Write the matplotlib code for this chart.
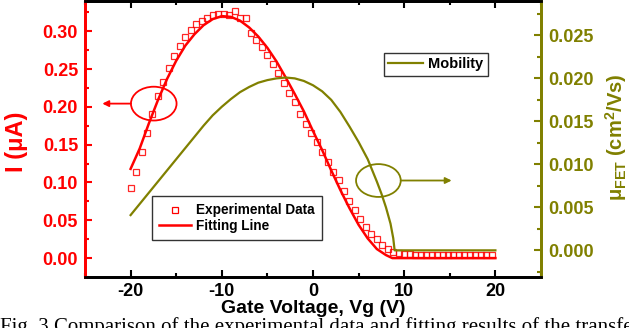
import numpy as np
import matplotlib
matplotlib.use('Agg')
import matplotlib.pyplot as plt
from matplotlib.patches import Ellipse
from matplotlib.lines import Line2D
from matplotlib.ticker import MultipleLocator

plt.rcParams['font.family'] = 'Liberation Sans'
plt.rcParams['font.weight'] = 'bold'
plt.rcParams['axes.unicode_minus'] = False
plt.rcParams['mathtext.fontset'] = 'custom'
plt.rcParams['mathtext.rm'] = 'Liberation Sans:bold'
plt.rcParams['mathtext.it'] = 'Liberation Sans:bold'
plt.rcParams['mathtext.bf'] = 'Liberation Sans:bold'

RED = '#ff0000'
OLIVE = '#808000'

# experimental data (uA), Vg step 0.6 V from -20 V
vg_exp = np.round(np.arange(67) * 0.6 - 20, 2)
i_exp = [0.093, 0.114, 0.140, 0.165, 0.190, 0.214, 0.233, 0.252, 0.267, 0.281,
         0.292, 0.301, 0.309, 0.313, 0.318, 0.321, 0.323, 0.323, 0.322, 0.327,
         0.318, 0.317, 0.298, 0.289, 0.279, 0.269, 0.257, 0.245, 0.232, 0.218,
         0.206, 0.190, 0.177, 0.166, 0.153, 0.140, 0.127, 0.114, 0.103, 0.089,
         0.076, 0.064, 0.052, 0.041, 0.032, 0.025, 0.017, 0.012, 0.008, 0.007,
         0.005, 0.005, 0.004, 0.004, 0.004, 0.004, 0.004, 0.004, 0.004, 0.004,
         0.004, 0.004, 0.004, 0.004, 0.004, 0.004, 0.004]

# fitting line (uA)
vg_fit = [-20, -19, -18, -17, -16, -15, -14, -13, -12, -11, -10, -9, -8, -7, -6,
          -5, -4, -3, -2, -1, 0, 1, 2, 3, 4, 5, 6, 7, 8, 8.7, 10, 15, 20]
i_fit = [0.118, 0.145, 0.178, 0.209, 0.237, 0.261, 0.281, 0.296, 0.308, 0.316,
         0.320, 0.319, 0.314, 0.305, 0.293, 0.278, 0.260, 0.239, 0.217, 0.194,
         0.168, 0.143, 0.116, 0.090, 0.066, 0.044, 0.026, 0.012, 0.004, 0.0,
         0.0, 0.0, 0.0]

# field-effect mobility (cm2/Vs)
vg_mob = [-20, -19, -18, -17, -16, -15, -14, -13, -12, -11, -10, -9, -8, -7, -6,
          -5, -4, -3, -2, -1, 0, 1, 2, 3, 4, 5, 6, 7, 7.5, 8, 8.5, 8.8, 8.95,
          10, 15, 20]
mu_fet = [0.0041, 0.0054, 0.0067, 0.0080, 0.0093, 0.0106, 0.0119, 0.0132,
          0.0145, 0.0157, 0.0167, 0.0176, 0.0184, 0.0190, 0.0195, 0.0198,
          0.0200, 0.0201, 0.0200, 0.0197, 0.0192, 0.0185, 0.0175, 0.0161,
          0.0144, 0.0126, 0.0106, 0.0080, 0.0066, 0.0050, 0.0031, 0.0014,
          0.0, 0.0, 0.0, 0.0]

fig = plt.figure(figsize=(6.29, 3.28), dpi=100)
ax = fig.add_axes([85/629, 51/328, 456/629, 276/328])
ax2 = ax.twinx()

ax.plot(vg_exp, i_exp, 's', ms=4.2, mfc='none', mec=RED, mew=0.9, alpha=0.85)
ax.plot(vg_fit, i_fit, '-', color=RED, lw=1.8)
ax2.plot(vg_mob, mu_fet, '-', color=OLIVE, lw=1.6)

ax.set_xlim(-25, 25)
ax.set_ylim(-0.025, 0.34)
ax2.set_ylim(-0.0031, 0.029)

ax.xaxis.set_major_locator(MultipleLocator(10))
ax.xaxis.set_minor_locator(MultipleLocator(5))
ax.yaxis.set_major_locator(MultipleLocator(0.05))
ax.yaxis.set_minor_locator(MultipleLocator(0.025))
ax2.yaxis.set_major_locator(MultipleLocator(0.005))
ax2.yaxis.set_minor_locator(MultipleLocator(0.0025))
ax.yaxis.set_major_formatter(plt.FormatStrFormatter('%.2f'))
ax2.yaxis.set_major_formatter(plt.FormatStrFormatter('%.3f'))

ax.tick_params(axis='x', which='both', direction='in', top=True, labelsize=13,
               width=1.5, pad=4)
ax.tick_params(axis='x', which='major', length=5)
ax.tick_params(axis='x', which='minor', length=3)
ax.tick_params(axis='y', which='both', direction='in', colors=RED, labelsize=13,
               width=1.5, pad=5)
ax.tick_params(axis='y', which='major', length=5)
ax.tick_params(axis='y', which='minor', length=3)
ax2.tick_params(axis='y', which='both', direction='in', colors=OLIVE, labelsize=13,
                width=1.5, pad=5)
ax2.tick_params(axis='y', which='major', length=5)
ax2.tick_params(axis='y', which='minor', length=3)

for a in (ax, ax2):
    for s in a.spines.values():
        s.set_linewidth(2)
ax2.spines['left'].set_color(RED)
ax2.spines['right'].set_color(OLIVE)
ax2.spines['top'].set_color('black')
ax2.spines['bottom'].set_color('black')
ax.spines['left'].set_color(RED)
ax.spines['right'].set_color(OLIVE)

ax.set_xlabel('Gate Voltage, Vg (V)', fontsize=14, fontweight='bold', labelpad=0)
fig.text(17/629, 1 - 142/328, 'I (\u03bcA)', color=RED, fontsize=17,
         fontweight='bold', rotation=90, ha='center', va='center')
fig.text(616/629, 1 - 137/328, r'$\mathrm{\mu_{FET}}$ (cm$^{\mathrm{2}}$/Vs)',
         color=OLIVE, fontsize=14.5, fontweight='bold', rotation=90,
         ha='center', va='center')

# legends
h1 = [Line2D([], [], ls='none', marker='s', ms=5, mfc='none', mec=RED, mew=0.9),
      Line2D([], [], color=RED, lw=1.8)]
leg1 = fig.legend(h1, ['Experimental Data', 'Fitting Line'], loc='upper left',
                  bbox_to_anchor=(152/629, 1 - 196/328), fontsize=9.8,
                  frameon=True, fancybox=False, edgecolor='black',
                  handlelength=2.3, borderaxespad=0, borderpad=0.55,
                  labelspacing=0.1, handletextpad=0.35)
leg1.get_frame().set_linewidth(1.0)
h2 = [Line2D([], [], color=OLIVE, lw=1.6)]
leg2 = fig.legend(h2, ['Mobility'], loc='upper left',
                  bbox_to_anchor=(384/629, 1 - 53/328), fontsize=10.5,
                  frameon=True, fancybox=False, edgecolor='black',
                  handlelength=2.4, borderaxespad=0, borderpad=0.3,
                  handletextpad=0.35)
leg2.get_frame().set_linewidth(1.0)

# ellipses with arrows pointing to the axes
ax.add_patch(Ellipse((-17.46, 0.2043), 5.0, 0.0447, fill=False, ec=RED, lw=1.3,
                     clip_on=False, zorder=5))
ax.annotate('', xy=(-23.1, 0.2043), xytext=(-19.96, 0.2043),
            arrowprops=dict(arrowstyle='-|>', color=RED, lw=1.3,
                            mutation_scale=9, shrinkA=0, shrinkB=0))
ax.add_patch(Ellipse((7.17, 0.1026), 4.9, 0.0434, fill=False, ec=OLIVE, lw=1.3,
                     clip_on=False, zorder=5))
ax.annotate('', xy=(15.2, 0.1026), xytext=(9.62, 0.1026),
            arrowprops=dict(arrowstyle='-|>', color=OLIVE, lw=1.3,
                            mutation_scale=9, shrinkA=0, shrinkB=0))

fig.text(0, 1 - 317/328,
         'Fig. 3 Comparison of the experimental data and fitting results of the transfer',
         fontsize=15, fontweight='normal', family='Liberation Serif',
         ha='left', va='top')

fig.savefig('out.png', dpi=100)
